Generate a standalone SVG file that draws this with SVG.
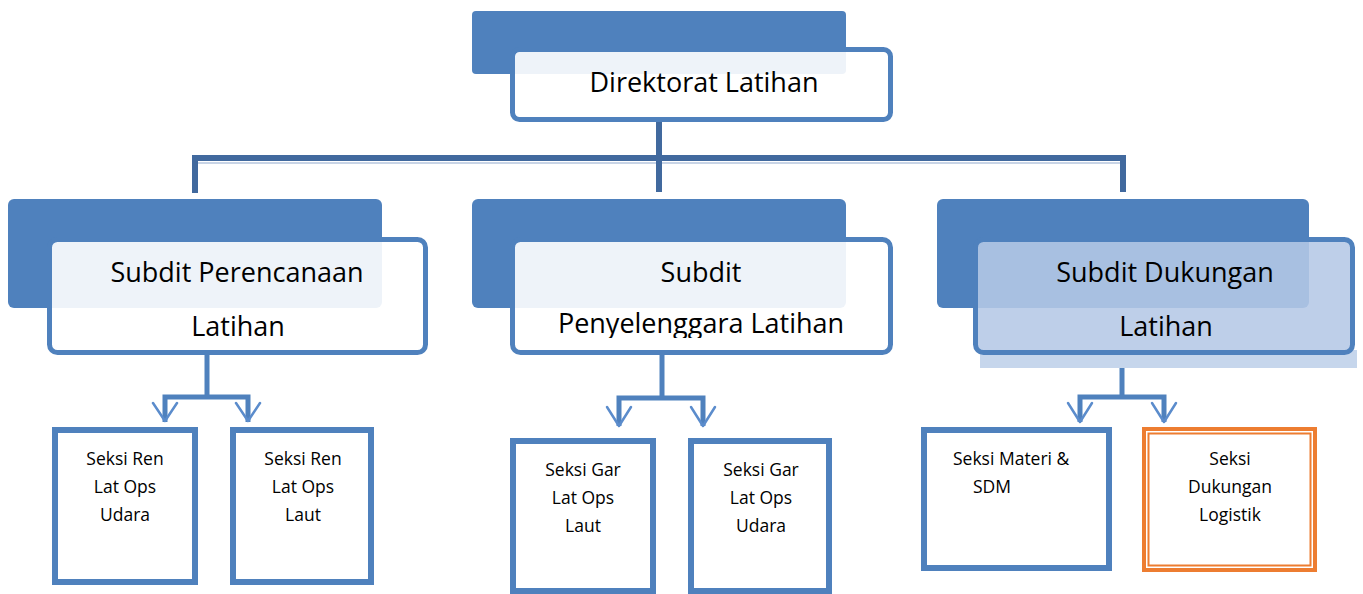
<svg xmlns="http://www.w3.org/2000/svg" width="1363" height="594" viewBox="0 0 1363 594">
<defs>
<style>
.back{fill:#4f81bd}
.front{fill:#ffffff;fill-opacity:0.9;stroke:#4f81bd;stroke-width:5}
.frontb{fill:#b5c8e6;fill-opacity:0.88;stroke:#4f81bd;stroke-width:5}
.big{font-family:"Open Sans","Liberation Sans",sans-serif;font-size:27px;fill:#000;text-anchor:middle}
.small{font-family:"Open Sans","Liberation Sans",sans-serif;font-size:17.5px;fill:#000;text-anchor:middle}
.box{fill:#fff;stroke:#4f81bd;stroke-width:6}
.obox{fill:none;stroke:#ed7d31}
.main{fill:none;stroke:#41699e;stroke-width:6}
.mainsh{fill:none;stroke:#c8d4e6;stroke-width:2}
.con{fill:none;stroke:#4f81bd;stroke-width:5}
.arr{fill:none;stroke:#5b8ccc;stroke-width:2.5;stroke-linecap:round;stroke-linejoin:round}
</style>
<clipPath id="clipMid"><rect x="500" y="230" width="400" height="108"/></clipPath>
</defs>
<g id="connectors">
<path class="mainsh" d="M198 163 H1120"/>
<path class="main" d="M195 193 V158 H1123 V192 M659 122 V192"/>
<path class="con" d="M207 355 V397 M165 422 V397 H248 V422"/>
<path class="arr" d="M153 403 L165 421 L177 403 M236 403 L248 421 L260 403"/>
<path class="con" d="M662 355 V398 M619 426 V398 H703 V426"/>
<path class="arr" d="M607 407 L619 426 L631 407 M691 407 L703 426 L715 407"/>
<path class="con" d="M1122 368 V397 M1080 422 V397 H1164 V422"/>
<path class="arr" d="M1068 403 L1080 422 L1092 403 M1152 403 L1164 422 L1176 403"/>
</g>
<g id="n-direktorat">
<rect class="back" x="472" y="11" width="374" height="63" rx="4"/>
<rect class="front" x="512.5" y="49.5" width="378" height="70" rx="7"/>
<text class="big" x="704" y="92">Direktorat Latihan</text>
</g>
<g id="n-perencanaan">
<rect class="back" x="8" y="199" width="374" height="109" rx="6"/>
<rect class="front" x="49.5" y="239.5" width="376" height="113" rx="8"/>
<text class="big" x="237" y="282">Subdit Perencanaan</text>
<text class="big" x="238" y="336">Latihan</text>
</g>
<g id="n-penyelenggara">
<rect class="back" x="472" y="199" width="374" height="109" rx="6"/>
<rect class="front" x="512.5" y="239.5" width="378" height="113" rx="8"/>
<text class="big" x="701" y="282">Subdit</text>
<text class="big" x="701" y="333" clip-path="url(#clipMid)">Penyelenggara Latihan</text>
</g>
<g id="n-dukungan">
<rect class="back" x="937" y="199" width="372" height="109" rx="6"/>
<rect x="980" y="350" width="377" height="18" fill="#c6d6ec"/>
<rect class="frontb" x="975.5" y="239.5" width="377" height="113" rx="8"/>
<text class="big" x="1165" y="282">Subdit Dukungan</text>
<text class="big" x="1166" y="336">Latihan</text>
</g>
<g id="n-ren-udara">
<rect class="box" x="55" y="430" width="140" height="152"/>
<text class="small" x="125" y="465">Seksi Ren</text>
<text class="small" x="125" y="493">Lat Ops</text>
<text class="small" x="125" y="521">Udara</text>
</g>
<g id="n-ren-laut">
<rect class="box" x="233" y="430" width="138" height="152"/>
<text class="small" x="303" y="465">Seksi Ren</text>
<text class="small" x="303" y="493">Lat Ops</text>
<text class="small" x="303" y="521">Laut</text>
</g>
<g id="n-gar-laut">
<rect class="box" x="513" y="441" width="140" height="150"/>
<text class="small" x="583" y="476">Seksi Gar</text>
<text class="small" x="583" y="504">Lat Ops</text>
<text class="small" x="583" y="532">Laut</text>
</g>
<g id="n-gar-udara">
<rect class="box" x="691" y="441" width="138" height="150"/>
<text class="small" x="761" y="476">Seksi Gar</text>
<text class="small" x="761" y="504">Lat Ops</text>
<text class="small" x="761" y="532">Udara</text>
</g>
<g id="n-materi">
<rect class="box" x="924" y="430" width="185" height="138"/>
<text class="small" x="953" y="465" style="text-anchor:start">Seksi Materi &amp;</text>
<text class="small" x="973" y="493" style="text-anchor:start">SDM</text>
</g>
<g id="n-logistik">
<rect x="1142" y="427" width="175" height="145" fill="#fff"/>
<rect class="obox" x="1144" y="429" width="171" height="141" stroke-width="4"/>
<rect class="obox" x="1148.5" y="433.5" width="162" height="132" stroke-width="2"/>
<text class="small" x="1230" y="465">Seksi</text>
<text class="small" x="1230" y="493">Dukungan</text>
<text class="small" x="1230" y="521">Logistik</text>
</g>
</svg>
